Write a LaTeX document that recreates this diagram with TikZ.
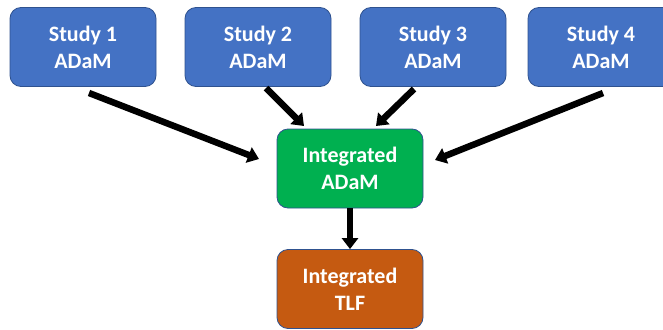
\documentclass[tikz,border=0pt]{standalone}
\usepackage{fontspec}
\setmainfont{Carlito}
\usetikzlibrary{arrows.meta}
\definecolor{bluebox}{HTML}{4472C4}
\definecolor{blueedge}{HTML}{2F528F}
\definecolor{greenbox}{HTML}{00B050}
\definecolor{orangebox}{HTML}{C55A11}
\tikzset{
  box/.style={draw=blueedge, line width=0.8pt, rounded corners=11pt, minimum width=146pt, minimum height=79pt, text=white, font=\fontsize{22}{27}\selectfont\bfseries, align=center, inner sep=0pt},
  conn/.style={line width=6.5pt, -{Triangle[length=11pt,width=16pt]}, shorten >=0pt}
}
\begin{document}
\begin{tikzpicture}[x=1pt,y=-1pt]
\useasboundingbox (0,0) rectangle (663,329);
\node[box, fill=bluebox] (s1) at (83,47) {Study 1\\ADaM};
\node[box, fill=bluebox] (s2) at (258,47) {Study 2\\ADaM};
\node[box, fill=bluebox] (s3) at (433,47) {Study 3\\ADaM};
\node[box, fill=bluebox] (s4) at (601,47) {Study 4\\ADaM};
\node[box, fill=greenbox] (ia) at (350,168.5) {Integrated\\ADaM};
\node[box, fill=orangebox] (it) at (350,289) {Integrated\\TLF};
\coordinate (a1s) at (89,93);
\coordinate (a1e) at (259,159);
\coordinate (a2s) at (266,88);
\coordinate (a2e) at (304,126);
\coordinate (a3s) at (414,89);
\coordinate (a3e) at (376,126);
\coordinate (a4s) at (603,93);
\coordinate (a4e) at (435,160);
\draw[conn] (a1s) -- (a1e);
\draw[conn] (a2s) -- (a2e);
\draw[conn] (a3s) -- (a3e);
\draw[conn] (a4s) -- (a4e);
\draw[conn] (ia.south) -- (it.north);
\end{tikzpicture}
\end{document}
